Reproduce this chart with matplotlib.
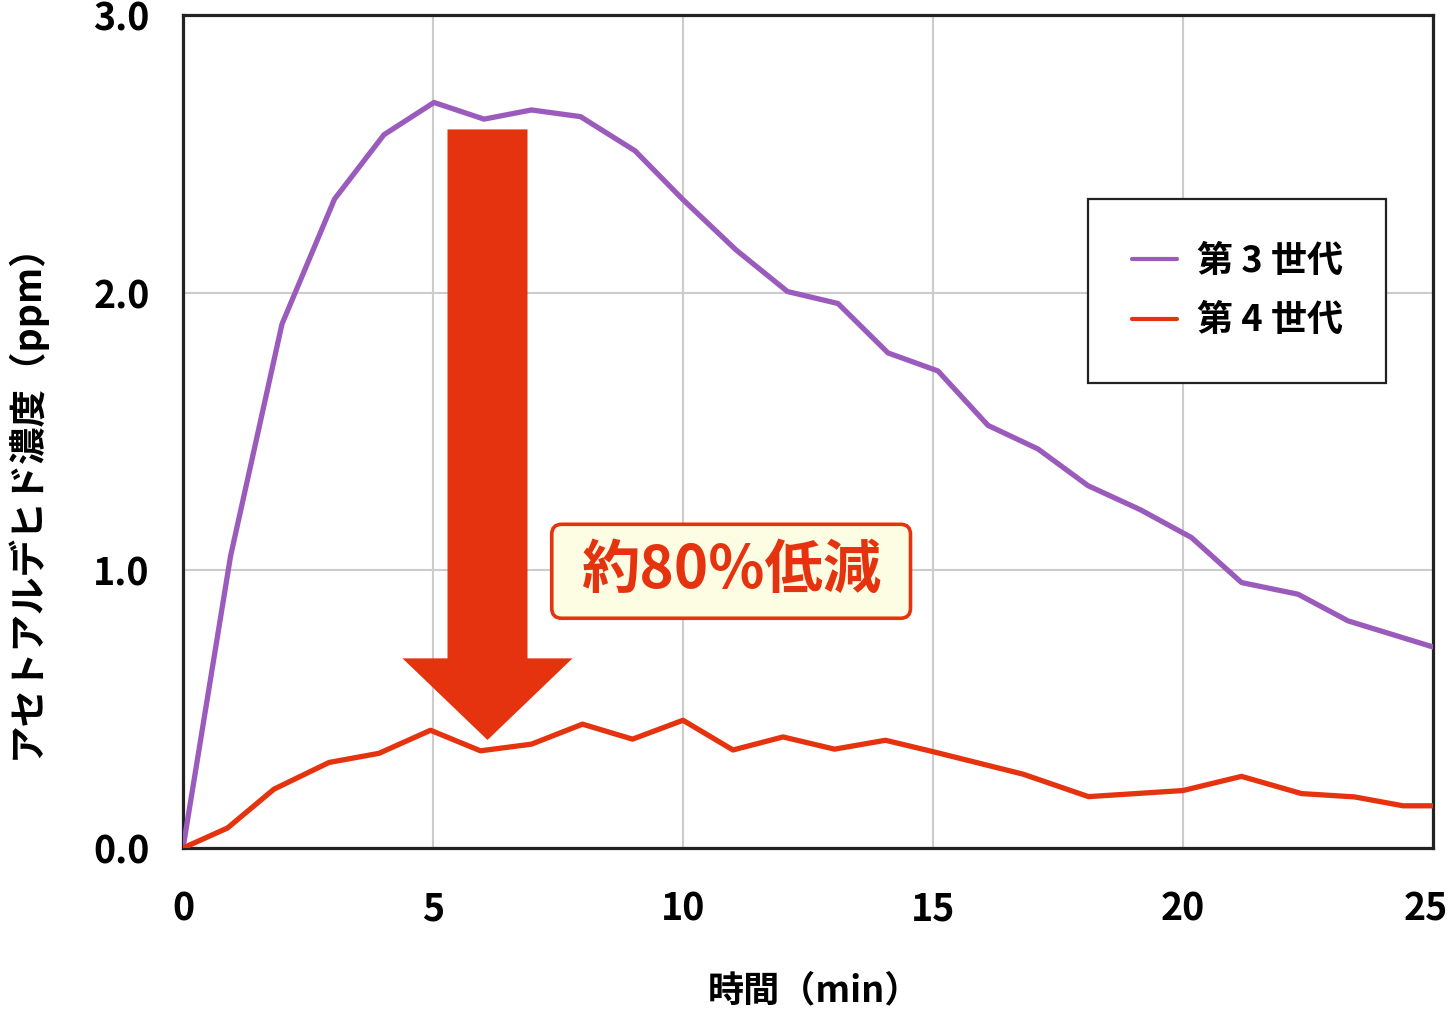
import matplotlib
matplotlib.use('Agg')
from matplotlib import pyplot as plt
from matplotlib.patches import Polygon, FancyBboxPatch
from matplotlib.transforms import ScaledTranslation

plt.rcParams['font.family'] = ['Noto Sans CJK JP', 'DejaVu Sans']
plt.rcParams['font.weight'] = 'bold'
plt.rcParams['axes.labelweight'] = 'bold'

# 第3世代
t3 = [0, 0.95, 1.98, 3.03, 4.02, 5.02, 6.02, 6.97, 7.95, 9.04, 10.0, 11.06, 12.09,
      13.1, 14.1, 15.1, 16.1, 17.1, 18.1, 19.15, 20.17, 21.17, 22.3, 23.3, 25]
gen3 = [0, 1.05, 1.887, 2.337, 2.569, 2.685, 2.625, 2.658, 2.634, 2.511, 2.335, 2.154, 2.004,
        1.961, 1.783, 1.718, 1.522, 1.437, 1.305, 1.218, 1.118, 0.956, 0.914, 0.818, 0.724]
# 第4世代
t4 = [0, 0.89, 1.82, 2.92, 3.92, 4.95, 5.95, 6.97, 7.99, 8.99, 10.0, 11.0, 12.0,
      13.03, 14.05, 15.0, 16.8, 18.11, 20.0, 21.17, 22.37, 23.43, 24.4, 25]
gen4 = [0, 0.072, 0.212, 0.308, 0.341, 0.424, 0.350, 0.374, 0.446, 0.392, 0.460, 0.353, 0.400,
        0.356, 0.388, 0.347, 0.266, 0.185, 0.207, 0.258, 0.196, 0.184, 0.152, 0.152]

labels = ['第 3 世代', '第 4 世代']
xticks = [0, 5, 10, 15, 20, 25]
yticks = [0.0, 1.0, 2.0, 3.0]

purple = '#9b5bbd'
red = '#e6330f'

fig = plt.figure(figsize=(14.49, 10.11), dpi=100)
ax = fig.add_axes([183 / 1449, 163 / 1011, 1250 / 1449, 833 / 1011])

ax.plot(t3, gen3, color=purple, lw=3.8, label=labels[0], zorder=3)
ax.plot(t4, gen4, color=red, lw=3.8, label=labels[1], zorder=3)

ax.set_xlim(0, 25)
ax.set_ylim(0, 3.0)
ax.set_xticks(xticks)
ax.set_yticks(yticks)
ax.set_xticklabels([str(v) for v in xticks])
ax.set_yticklabels(['{:.1f}'.format(v) for v in yticks])
ax.tick_params(axis='both', length=0, labelsize=27)
ax.tick_params(axis='y', pad=24)
ax.tick_params(axis='x', pad=30)
# 右端の「25」が切れないよう少し左へ
last = ax.get_xticklabels()[-1]
last.set_transform(last.get_transform() + ScaledTranslation(-7 / 100, 0, fig.dpi_scale_trans))
ax.grid(True, color='#cccccc', lw=1.5, zorder=0)
ax.set_axisbelow(True)
for s in ax.spines.values():
    s.set_linewidth(2.3)
    s.set_color('#222222')

# 矢印
arrow = Polygon([(5.29, 2.588), (6.89, 2.588), (6.89, 0.683), (7.79, 0.683),
                 (6.09, 0.389), (4.39, 0.683), (5.29, 0.683)],
                closed=True, fc=red, ec='none', zorder=4)
ax.add_patch(arrow)

# 約80%低減 の枠
box = FancyBboxPatch((0.295, 0.2758), 0.287, 0.1128, transform=ax.transAxes,
                     boxstyle='round,pad=0,rounding_size=0.008', mutation_aspect=1.5,
                     fc='#fdfde3', ec=red, lw=2.6, zorder=5)
ax.add_patch(box)
ax.text(0.4385, 0.3325, '約80%低減', transform=ax.transAxes, ha='center', va='center',
        fontsize=42, color=red, fontweight='bold', zorder=6)

leg = ax.legend(loc='upper right', bbox_to_anchor=(0.9624, 0.7788), borderaxespad=0,
                fontsize=26, fancybox=False, framealpha=1, edgecolor='#222222',
                borderpad=1.2, labelspacing=0.63, handlelength=1.25, handletextpad=0.55)
leg.get_frame().set_linewidth(1.6)
for line in leg.get_lines():
    line.set_linewidth(3.0)
    line.set_solid_capstyle('round')

ax.set_xlabel('時間（min）', fontsize=26, fontweight='bold')
ax.xaxis.set_label_coords(0.505, -0.149)
fig.text(25 / 1449, 1 - 492 / 1011, 'アセトアルデヒド濃度（ppm）', rotation=90,
         ha='center', va='center', fontsize=27, fontweight='bold')

fig.savefig('out.png', dpi=100)
